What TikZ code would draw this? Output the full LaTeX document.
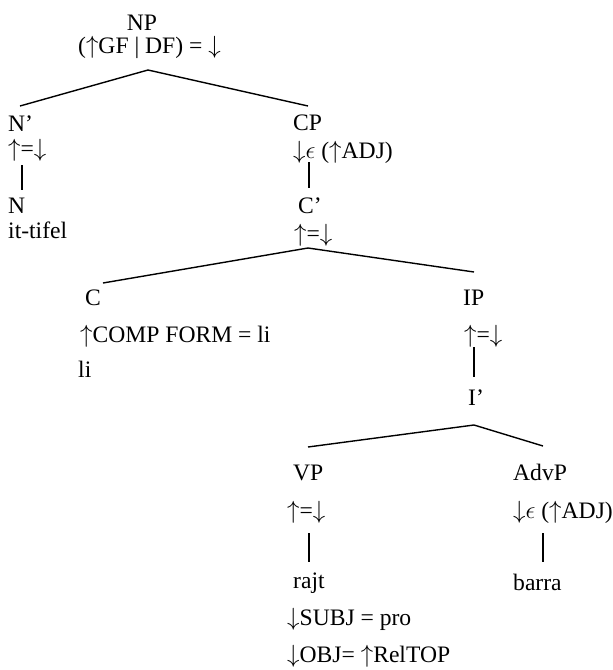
\documentclass[tikz,border=0pt]{standalone}
\usepackage{fontspec}
\setmainfont{Liberation Serif}
\usetikzlibrary{positioning}
\begin{document}
\begin{tikzpicture}[x=1pt,y=-1pt]

\tikzset{lbl/.style={
    anchor=base west,
    inner sep=0pt,
    font=\fontsize{23.6}{27}\selectfont
  },
  branch/.style={line width=1.4pt}
}

\useasboundingbox (0,0) rectangle (613,670);

% NP
\node[lbl,anchor=base] (np) at (142,30) {NP};
\node[lbl] (npf) at (78,53) {($\uparrow$GF | DF) = $\downarrow$};
\coordinate (np-fork) at (148,70);

% N' branch
\node[lbl] (nbar) at (8,131) {N’};
\node[lbl] (nbarf) at (8,156) {$\uparrow$=$\downarrow$};
\node[lbl] (n) at (8,213) {N};
\node[lbl] (nlex) at (8,238) {it-tifel};
\coordinate (nbar-top) at (20,106);
\coordinate (nbar-bot) at (22,165);
\coordinate (n-top) at (22,190);

% CP branch
\node[lbl] (cp) at (293,130) {CP};
\node[lbl] (cpf) at (293,158) {$\downarrow$$\epsilon$ ($\uparrow$ADJ)};
\node[lbl] (cbar) at (298,213) {C’};
\node[lbl] (cbarf) at (294,241) {$\uparrow$=$\downarrow$};
\coordinate (cp-top) at (308,106);
\coordinate (cp-bot) at (309,162);
\coordinate (cbar-top) at (309,188);
\coordinate (cbar-fork) at (308,248);

% C and IP
\node[lbl] (c) at (85,305) {C};
\node[lbl] (cf) at (80,342) {$\uparrow$COMP FORM = li};
\node[lbl] (clex) at (78,377) {li};
\coordinate (c-top) at (103,283);

\node[lbl] (ip) at (463,305) {IP};
\node[lbl] (ipf) at (464,342) {$\uparrow$=$\downarrow$};
\node[lbl] (ibar) at (468,405) {I’};
\coordinate (ip-top) at (474,272);
\coordinate (ip-bot) at (474,347);
\coordinate (ibar-top) at (474,377);
\coordinate (ibar-fork) at (474,425);

% VP and AdvP
\node[lbl] (vp) at (293,480) {VP};
\node[lbl] (vpf) at (287,518) {$\uparrow$=$\downarrow$};
\node[lbl] (vlex) at (293,588) {rajt};
\node[lbl] (vsubj) at (287,625) {$\downarrow$SUBJ = pro};
\node[lbl] (vobj) at (287,662) {$\downarrow$OBJ= $\uparrow$RelTOP};
\coordinate (vp-top) at (308,447);
\coordinate (vp-bot) at (309,533);
\coordinate (vlex-top) at (309,562);

\node[lbl] (advp) at (513,480) {AdvP};
\node[lbl] (advf) at (513,518) {$\downarrow$$\epsilon$ ($\uparrow$ADJ)};
\node[lbl] (advlex) at (513,590) {barra};
\coordinate (advp-top) at (543,446);
\coordinate (advp-bot) at (543,533);
\coordinate (advlex-top) at (543,562);

\draw[branch] (nbar-top) -- (np-fork) -- (cp-top);
\draw[branch] (nbar-bot) -- (n-top);
\draw[branch] (cp-bot) -- (cbar-top);
\draw[branch] (c-top) -- (cbar-fork) -- (ip-top);
\draw[branch] (ip-bot) -- (ibar-top);
\draw[branch] (vp-top) -- (ibar-fork) -- (advp-top);
\draw[branch] (vp-bot) -- (vlex-top);
\draw[branch] (advp-bot) -- (advlex-top);

\end{tikzpicture}
\end{document}
